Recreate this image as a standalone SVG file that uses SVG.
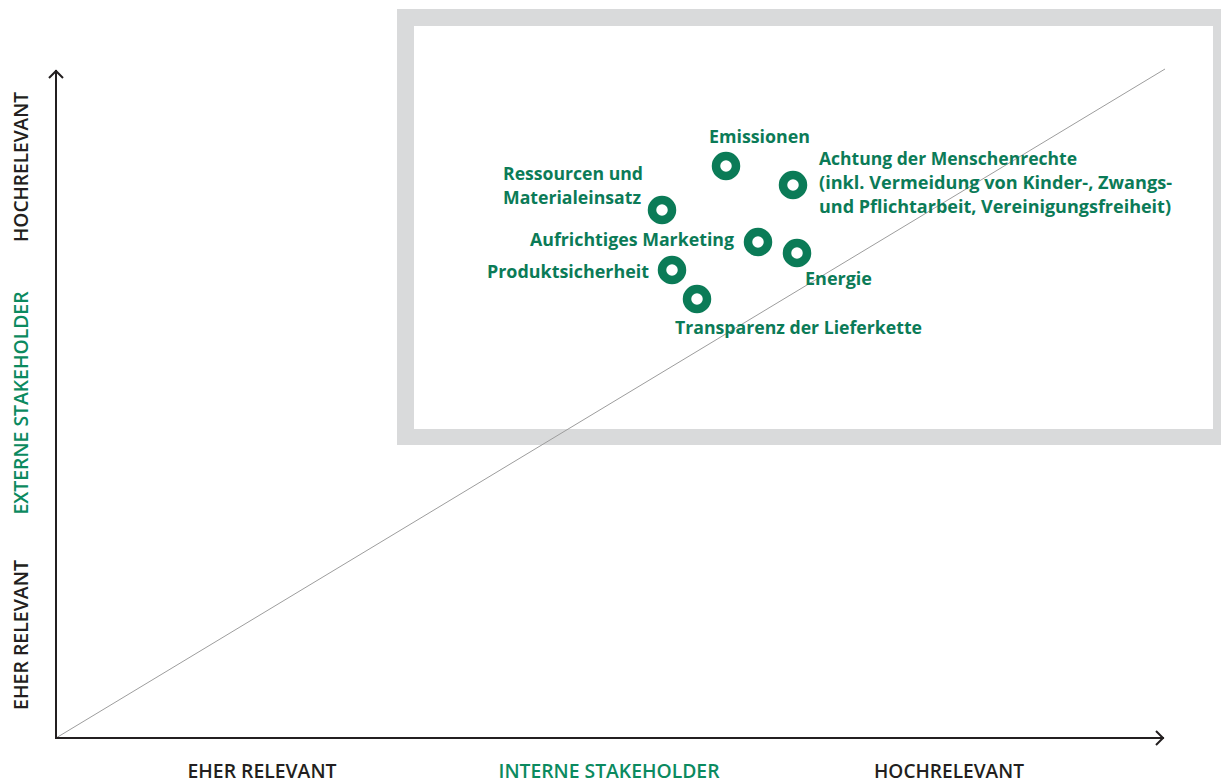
<svg xmlns="http://www.w3.org/2000/svg" width="1221" height="782" viewBox="0 0 1221 782">
<style>
.lbl{font-family:"Open Sans","Liberation Sans",sans-serif;font-weight:700;font-size:18px;fill:#0b7b57}
.ax{font-family:"Open Sans","Liberation Sans",sans-serif;font-weight:600;font-size:19px;fill:#231f20;text-anchor:middle}
.axg{fill:#0b8a5f}
.ring{fill:none;stroke:#0b7b57;stroke-width:8.5}
.axis{fill:none;stroke:#231f20;stroke-width:2}
</style>
<rect width="1221" height="782" fill="#ffffff"/>
<g id="frame">
<rect x="397" y="9" width="840" height="436" fill="#d9dadb"/>
<rect x="414" y="26" width="799" height="403" fill="#ffffff"/>
</g>
<g id="connectors">
<line x1="56" y1="738" x2="1165" y2="69" stroke="#9d9d9d" stroke-width="1"/>
<polyline class="axis" points="56,70 56,738 1164,738"/>
<polyline class="axis" points="49,78 56,71 63,78"/>
<polyline class="axis" points="1156,731 1163,738 1156,745"/>
</g>
<g id="axis-labels">
<text class="ax" x="262" y="778" textLength="149" lengthAdjust="spacingAndGlyphs">EHER RELEVANT</text>
<text class="ax axg" x="609" y="778" textLength="221" lengthAdjust="spacingAndGlyphs">INTERNE STAKEHOLDER</text>
<text class="ax" x="949" y="778" textLength="150" lengthAdjust="spacingAndGlyphs">HOCHRELEVANT</text>
<text class="ax" transform="translate(28,167) rotate(-90)" textLength="150" lengthAdjust="spacingAndGlyphs">HOCHRELEVANT</text>
<text class="ax axg" transform="translate(28,403) rotate(-90)" textLength="223" lengthAdjust="spacingAndGlyphs">EXTERNE STAKEHOLDER</text>
<text class="ax" transform="translate(28,635) rotate(-90)" textLength="150" lengthAdjust="spacingAndGlyphs">EHER RELEVANT</text>
</g>
<g id="emissionen">
<circle class="ring" cx="726" cy="166" r="10"/>
<text class="lbl" x="709" y="143" textLength="101" lengthAdjust="spacingAndGlyphs">Emissionen</text>
</g>
<g id="menschenrechte">
<circle class="ring" cx="793" cy="185" r="10"/>
<text class="lbl" x="819" y="165" textLength="258" lengthAdjust="spacingAndGlyphs">Achtung der Menschenrechte</text>
<text class="lbl" x="819" y="189" textLength="353" lengthAdjust="spacingAndGlyphs">(inkl. Vermeidung von Kinder-, Zwangs-</text>
<text class="lbl" x="819" y="213" textLength="352" lengthAdjust="spacingAndGlyphs">und Pflichtarbeit, Vereinigungsfreiheit)</text>
</g>
<g id="ressourcen">
<circle class="ring" cx="662" cy="210" r="10"/>
<text class="lbl" x="503" y="180" textLength="140" lengthAdjust="spacingAndGlyphs">Ressourcen und</text>
<text class="lbl" x="503" y="204" textLength="138" lengthAdjust="spacingAndGlyphs">Materialeinsatz</text>
</g>
<g id="marketing">
<circle class="ring" cx="758" cy="242" r="10"/>
<text class="lbl" x="530" y="246" textLength="204" lengthAdjust="spacingAndGlyphs">Aufrichtiges Marketing</text>
</g>
<g id="energie">
<circle class="ring" cx="797" cy="253" r="10"/>
<text class="lbl" x="805" y="285" textLength="67" lengthAdjust="spacingAndGlyphs">Energie</text>
</g>
<g id="produktsicherheit">
<circle class="ring" cx="672" cy="270" r="10"/>
<text class="lbl" x="487" y="278" textLength="162" lengthAdjust="spacingAndGlyphs">Produktsicherheit</text>
</g>
<g id="transparenz">
<circle class="ring" cx="697" cy="299" r="10"/>
<text class="lbl" x="675" y="334" textLength="247" lengthAdjust="spacingAndGlyphs">Transparenz der Lieferkette</text>
</g>
</svg>
